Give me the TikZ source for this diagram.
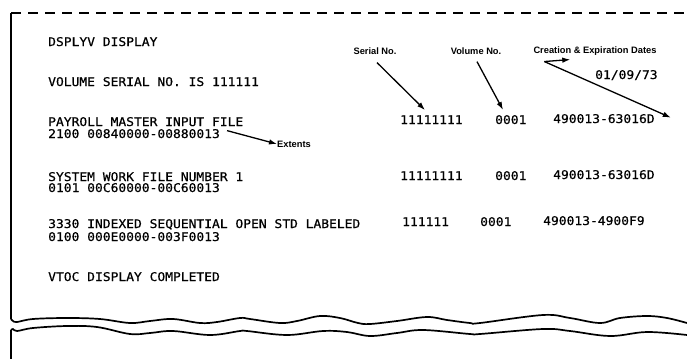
\documentclass[tikz,border=0pt]{standalone}
\usepackage{fontspec}
\usetikzlibrary{arrows.meta,calc}
\newfontfamily\prt[FakeStretch=1.08,FakeBold=0.6]{DejaVu Sans Mono}
\newfontfamily\lbl{Liberation Sans}
\tikzset{
  prtext/.style={anchor=base west,inner sep=0pt,font=\prt\fontsize{12}{12}\selectfont},
  lbltext/.style={inner sep=0pt,font=\lbl\bfseries\fontsize{9.3}{10}\selectfont},
  arr/.style={line width=1.3pt,-{Latex[length=8pt,width=5.5pt]}},
  frame/.style={line width=1.3pt},
  wave/.style={line width=1.7pt}
}
\begin{document}
\begin{tikzpicture}[x=1pt,y=-1pt]
\useasboundingbox (0,0) rectangle (687,359);
% frame
\draw[frame,dash pattern=on 10pt off 7pt] (11,13) -- (687,13);
\draw[frame] (11,13) -- (11,319);
\draw[wave] plot[smooth,tension=0.6] coordinates {(11,319) (13,321) (17,322) (33,319) (67,318) (100,319) (130,323) (150,321) (173,319) (200,323) (217,322) (240,318) (250,319) (280,323) (297,321) (320,316) (340,318) (358,323) (370,324) (397,321) (427,317) (447,320) (470,323) (480,323) (543,315) (570,318) (600,323) (620,318) (647,316) (667,318) (687,323)};
\draw[wave] plot[smooth,tension=0.6] coordinates {(11,330) (13,329) (17,331) (33,328) (67,326) (97,327) (130,334) (150,333) (173,331) (210,335) (240,331) (247,331) (287,335) (323,331) (347,332) (370,336) (397,333) (423,330) (470,334) (480,334) (543,329) (570,331) (610,336) (647,332) (687,335)};
\draw[frame] (11,330) -- (11,359);
% left text
\node[prtext] (t1) at (48,46) {DSPLYV DISPLAY};
\node[prtext] (t2) at (48,86) {VOLUME SERIAL NO. IS 111111};
\node[prtext] (f1) at (48,126) {PAYROLL MASTER INPUT FILE};
\node[prtext] (x1) at (48,138) {2100 00840000-00880013};
\node[prtext] (f2) at (48,181) {SYSTEM WORK FILE NUMBER 1};
\node[prtext] (x2) at (48,192) {0101 00C60000-00C60013};
\node[prtext] (f3) at (48,228) {3330 INDEXED SEQUENTIAL OPEN STD LABELED};
\node[prtext] (x3) at (48,241) {0100 000E0000-003F0013};
\node[prtext] (t3) at (48,281) {VTOC DISPLAY COMPLETED};
% right columns
\node[prtext] (date) at (595,79) {01/09/73};
\node[prtext] (s1) at (400,124) {11111111};
\node[prtext] (v1) at (495,124) {0001};
\node[prtext] (d1) at (553,123) {490013-63016D};
\node[prtext] (s2) at (400,180) {11111111};
\node[prtext] (v2) at (495,180) {0001};
\node[prtext] (d2) at (553,179) {490013-63016D};
\node[prtext] (s3) at (402,226) {111111};
\node[prtext] (v3) at (480,226) {0001};
\node[prtext] (d3) at (543,225) {490013-4900F9};
% labels
\node[lbltext] (serial) at (375,51) {Serial No.};
\node[lbltext] (volume) at (476,51) {Volume No.};
\node[lbltext] (cre) at (595,51) {Creation \& Expiration Dates};
\node[lbltext,anchor=west] (ext) at (277,144) {Extents};
% arrows
\draw[arr] ($(serial.south)+(2,8)$) -- ($(s1.north west)+(25,-5)$);
\draw[arr] ($(volume.south)+(1,7)$) -- ($(v1.north west)+(8,-5)$);
\coordinate (cf) at ($(cre.south west)+(11,6)$);
\coordinate (cs) at ($(cf)+(26,-2)$);
\draw[arr] (cf) -- (cs);
\draw[arr] (cf) -- ($(d1.east)+(16,-1)$);
\draw[arr] ($(x1.east)+(7,-3)$) -- (ext.west);
\end{tikzpicture}
\end{document}
